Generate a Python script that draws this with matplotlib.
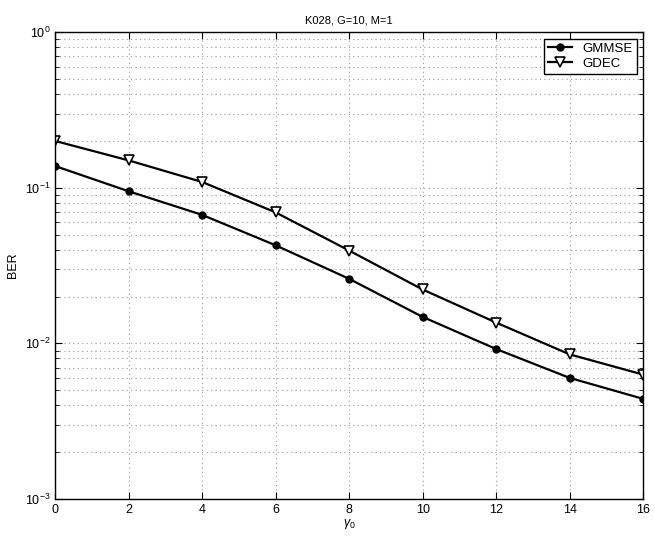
import numpy as np
import matplotlib.pyplot as plt

plt.rcParams['font.family'] = ['Liberation Sans', 'DejaVu Sans']
plt.rcParams['mathtext.fontset'] = 'custom'
plt.rcParams['mathtext.rm'] = 'Liberation Sans'
plt.rcParams['mathtext.it'] = 'Liberation Sans:italic'

gamma0 = [0, 2, 4, 6, 8, 10, 12, 14, 16]
ber_gmmse = [0.138, 0.095, 0.067, 0.0427, 0.026, 0.0148, 0.0092, 0.0060, 0.0044]
ber_gdec = [0.200, 0.150, 0.109, 0.0695, 0.0395, 0.0222, 0.0136, 0.0085, 0.0063]

fig = plt.figure(figsize=(6.55, 5.36), dpi=100)
ax = fig.add_axes([0.084, 0.069, 0.898, 0.871])

ax.semilogy(gamma0, ber_gmmse, color='black', linewidth=1.6, marker='o',
            markersize=5, markerfacecolor='black', label='GMMSE')
ax.semilogy(gamma0, ber_gdec, color='black', linewidth=1.6, marker='v',
            markersize=7, markerfacecolor='white', markeredgewidth=1.2,
            label='GDEC')

ax.set_xlim(0, 16)
ax.set_ylim(1e-3, 1)
ax.set_xticks(np.arange(0, 17, 2))
grid_style = dict(linestyle=(0, (1, 3)), color='#999999', linewidth=0.8)
ax.grid(True, which='major', **grid_style)
ax.grid(True, which='minor', axis='y', **grid_style)
ax.tick_params(which='both', direction='in', top=True, right=True, labelsize=9)
ax.tick_params(which='major', length=5)
ax.tick_params(which='minor', length=3)
for s in ax.spines.values():
    s.set_linewidth(1.0)

ax.set_title('K028, G=10, M=1', fontsize=8)
ax.set_xlabel(r'$\gamma_0$', fontsize=9, labelpad=1)
ax.set_ylabel('BER', fontsize=9)

leg = ax.legend(loc='upper right', fontsize=9.5, fancybox=False, framealpha=1,
                edgecolor='black', handlelength=1.8, borderpad=0.3,
                labelspacing=0.2)
leg.get_frame().set_linewidth(1.0)

fig.savefig('out.png', dpi=100)
